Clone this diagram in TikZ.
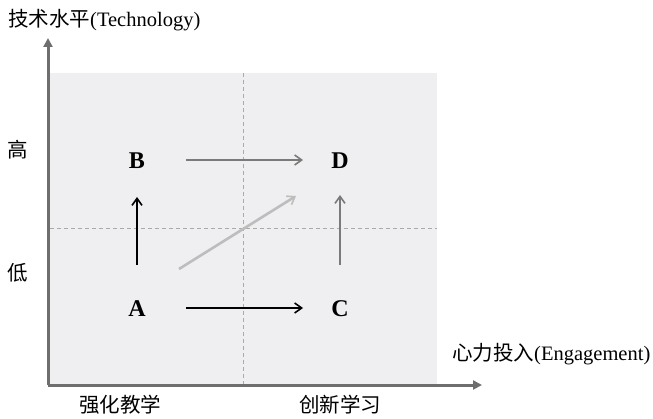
\documentclass[tikz,border=0pt]{standalone}
\usepackage{fontspec}
\setmainfont{Liberation Serif}
\newfontfamily\cjk{Noto Sans CJK SC}
\usetikzlibrary{arrows.meta}
\definecolor{boxfill}{HTML}{EFEFF1}
\definecolor{axisgray}{HTML}{6E6E6E}
\definecolor{midgray}{HTML}{7A7A7A}
\definecolor{lightgray}{HTML}{BDBDBD}
\definecolor{dashgray}{HTML}{AAAAAA}
\tikzset{
  lbl/.style={font=\fontsize{20.5}{22}\selectfont, inner sep=0pt},
  letter/.style={font=\fontsize{24}{26}\selectfont\bfseries, inner sep=0pt},
  flow/.style={line width=2pt, -{Straight Barb[length=7pt,width=10pt,line width=1.6pt]}},
  axis/.style={line width=3pt, axisgray, -{Triangle[length=9pt,width=9pt]}},
  guide/.style={dashgray, dashed, dash pattern=on 4pt off 3pt, line width=1pt}
}
\begin{document}
\begin{tikzpicture}[x=1pt,y=-1pt]
\useasboundingbox (0,0) rectangle (653,419);
\fill[boxfill] (50,73) rectangle (437,384);
\draw[guide] (243,73) -- (243,384);
\draw[guide] (50,229) -- (437,229);
\coordinate (o) at (48,385);
\coordinate (ytop) at (48,38);
\coordinate (xend) at (482,385);
\draw[axis] (o) -- (ytop);
\draw[axis] (o) -- (xend);
\node[lbl, anchor=west] (ylab) at (8,20) {\cjk 技术水平\rm(Technology)};
\node[lbl, anchor=west] (xlab) at (452,354) {\cjk 心力投入\rm(Engagement)};
\node[lbl] (hi) at (18,150) {\cjk 高};
\node[lbl] (lo) at (18,273) {\cjk 低};
\node[lbl] (q1) at (120,405) {\cjk 强化教学};
\node[lbl] (q2) at (340,405) {\cjk 创新学习};
\node[letter] (B) at (137,161) {B};
\node[letter] (D) at (340,161) {D};
\node[letter] (A) at (137,309) {A};
\node[letter] (C) at (340,309) {C};
\coordinate (bd1) at (186,160); \coordinate (bd2) at (303,160);
\coordinate (ac1) at (186,308); \coordinate (ac2) at (303,308);
\coordinate (ab1) at (137,265); \coordinate (ab2) at (137,197);
\coordinate (cd1) at (340,265); \coordinate (cd2) at (340,195);
\coordinate (ad1) at (179,269); \coordinate (ad2) at (296,196);
\draw[flow, midgray] (bd1) -- (bd2);
\draw[flow, black] (ac1) -- (ac2);
\draw[flow, black] (ab1) -- (ab2);
\draw[flow, midgray] (cd1) -- (cd2);
\draw[flow, lightgray, line width=2.6pt] (ad1) -- (ad2);
\end{tikzpicture}
\end{document}
